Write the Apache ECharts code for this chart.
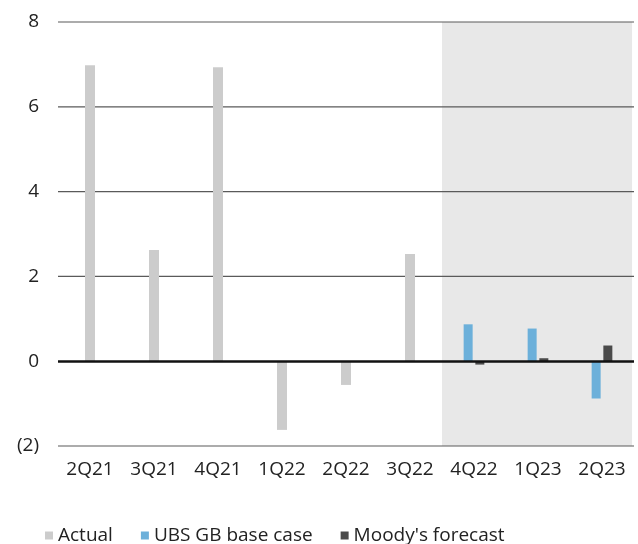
<!DOCTYPE html>
<html>
<head>
<meta charset="utf-8">
<script src="https://cdn.jsdelivr.net/npm/echarts@6/dist/echarts.min.js"></script>
<style>
  html, body { margin: 0; padding: 0; background: #fff; }
  #chart { width: 638px; height: 544px; }
</style>
</head>
<body>
<div id="chart"></div>
<script>
// quarters on the x axis
const quarters = ['2Q21', '3Q21', '4Q21', '1Q22', '2Q22', '3Q22', '4Q22', '1Q23', '2Q23']
// values
const actual = [6.98, 2.62, 6.93, -1.62, -0.56, 2.53, null, null, null]
const ubsBase = [null, null, null, null, null, null, 0.87, 0.77, -0.88]
const moodys = [null, null, null, null, null, null, -0.08, 0.07, 0.37]
// forecast period shading: [from category index, to category index]
const shadeRange = [[6, 8.97]]
// horizontal gridlines (zero line is drawn separately, darker)
const gridValues = [8, 6, 4, 2, -2]

const font = '"Open Sans", sans-serif'

const el = document.getElementById('chart')
const chart = echarts.init(el)

const option = {
  animation: false,
  grid: { left: 58, right: 4, top: 22, bottom: 98 },
  legend: {
    left: 40,
    top: 521,
    itemWidth: 8,
    itemHeight: 8,
    itemGap: 28,
    icon: 'rect',
    textStyle: { fontFamily: font, fontSize: 19, color: '#222' },
    data: ['Actual', 'UBS GB base case', "Moody's forecast"]
  },
  xAxis: [
    {
      type: 'category',
      data: quarters,
      axisLine: { show: false },
      axisTick: { show: false },
      axisLabel: { fontFamily: font, fontSize: 19, color: '#222', margin: 14 }
    },
    {
      type: 'category',
      data: quarters,
      show: false
    },
    {
      // helper axis for the shaded forecast area
      type: 'value',
      min: 0,
      max: quarters.length,
      show: false
    }
  ],
  yAxis: {
    type: 'value',
    min: -2,
    max: 8,
    interval: 2,
    axisLine: { show: false },
    axisTick: { show: false },
    axisLabel: {
      fontFamily: font,
      fontSize: 19,
      color: '#222',
      margin: 19,
      formatter: (v) => (v < 0 ? '(' + Math.abs(v) + ')' : String(v))
    },
    splitLine: { show: false }
  },
  series: [
    {
      // shaded forecast area + gridlines drawn on top of it, below the bars
      name: 'shade',
      type: 'custom',
      xAxisIndex: 2,
      silent: true,
      z: 0,
      data: shadeRange,
      renderItem: (params, api) => {
        const p1 = api.coord([api.value(0), 8])
        const p2 = api.coord([api.value(1), -2])
        const children = [{
          type: 'rect',
          shape: { x: p1[0], y: p1[1], width: p2[0] - p1[0], height: p2[1] - p1[1] },
          style: { fill: '#e8e8e8' }
        }]
        gridValues.forEach((v) => {
          const a = api.coord([0, v])
          const b = api.coord([quarters.length, v])
          children.push({
            type: 'line',
            shape: { x1: a[0], y1: a[1], x2: b[0], y2: b[1] },
            style: { stroke: '#5a5a5a', lineWidth: 1.2 }
          })
        })
        return { type: 'group', children }
      }
    },
    {
      name: 'Actual',
      type: 'bar',
      xAxisIndex: 0,
      data: actual,
      barWidth: 10,
      itemStyle: { color: '#cccccc' },
      markLine: {
        silent: true,
        symbol: 'none',
        label: { show: false },
        lineStyle: { color: '#111', width: 2.5, type: 'solid' },
        data: [{ yAxis: 0 }]
      }
    },
    {
      name: 'UBS GB base case',
      type: 'bar',
      xAxisIndex: 1,
      data: ubsBase,
      barWidth: 9,
      barGap: '30%',
      itemStyle: { color: '#6cb0da' }
    },
    {
      name: "Moody's forecast",
      type: 'bar',
      xAxisIndex: 1,
      data: moodys,
      barWidth: 9,
      barGap: '30%',
      itemStyle: { color: '#4a4a4a' }
    }
  ]
}

chart.setOption(option)
window.addEventListener('resize', () => {
  chart.resize()
})
</script>
</body>
</html>
